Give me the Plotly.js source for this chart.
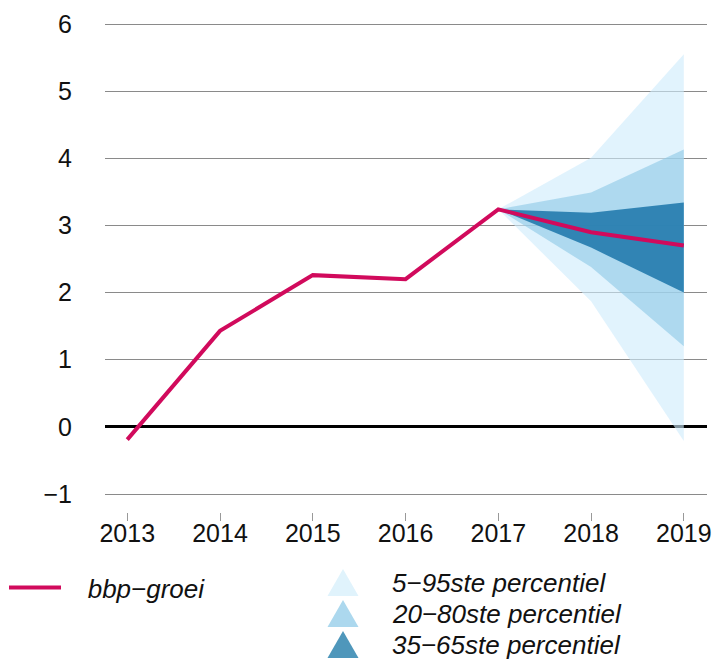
<!DOCTYPE html>
<html>
<head>
<meta charset="utf-8">
<script src="https://cdn.plot.ly/plotly-3.0.1.min.js"></script>
<style>html,body{margin:0;padding:0;background:#fff;}</style>
</head>
<body>
<div id="chart" style="width:715px;height:664px;"></div>
<script>
// Data
const years = [2013, 2014, 2015, 2016, 2017, 2018, 2019];
const gdpGrowth = [-0.19, 1.43, 2.26, 2.20, 3.24, 2.90, 2.70];
const fanYears = [2017, 2018, 2019];
const p5 = [3.24, 1.87, -0.21];
const p95 = [3.24, 4.01, 5.55];
const p20 = [3.24, 2.38, 1.20];
const p80 = [3.24, 3.49, 4.13];
const p35 = [3.24, 2.67, 2.00];
const p65 = [3.24, 3.19, 3.34];
const seriesName = "bbp\u2212groei";
const bandNames = ["5\u221295ste percentiel", "20\u221280ste percentiel", "35\u221265ste percentiel"];
const yTicks = [-1, 0, 1, 2, 3, 4, 5, 6];

const colLight = "rgba(206,235,251,0.62)";
const colMid = "rgba(140,200,230,0.6)";
const colDark = "rgba(38,125,175,0.92)";
const colLine = "#d10a5c";
const legendTri = ["#e0f3fc", "#acd8ee", "#4f97bb"];

function band(lo, hi, color, name) {
  return {
    x: fanYears.concat(fanYears.slice().reverse()),
    y: lo.concat(hi.slice().reverse()),
    type: "scatter", mode: "lines", fill: "toself", name: name,
    fillcolor: color, line: {width: 0, color: color},
    showlegend: false, hoverinfo: "skip"
  };
}

const traces = [
  band(p5, p95, colLight, bandNames[0]),
  band(p20, p80, colMid, bandNames[1]),
  band(p35, p65, colDark, bandNames[2]),
  {
    x: years, y: gdpGrowth, type: "scatter", mode: "lines",
    name: "\u00a0\u00a0\u00a0" + seriesName,
    line: {color: colLine, width: 4}
  },
  // carrier trace for the tick-mark axis
  {x: years, y: gdpGrowth, xaxis: "x2", yaxis: "y", type: "scatter", mode: "none",
   showlegend: false, hoverinfo: "skip"}
];

const FONT = "Liberation Sans, Arial, Helvetica, sans-serif";
const tickFont = {family: FONT, size: 25, color: "#111"};
const legFont = {family: FONT, size: 26, color: "#111", style: "italic"};

// plot area in pixels: left 105, right 707, top 20, bottom 512
const PL = 105, PW = 602, PB = 512, PH = 492;
const px = v => (v - PL) / PW;
const py = v => (PB - v) / PH;

// legend swatches (triangles) and labels
const shapes = [];
const annotations = [];
const rowY = [583, 614, 645];
const triW = 31, triH = 27;
bandNames.forEach((nm, i) => {
  const cx = 343, top = rowY[i] - 14, bot = top + triH;
  shapes.push({
    type: "path", xref: "paper", yref: "paper",
    path: "M " + px(cx) + " " + py(top) + " L " + px(cx + triW / 2) + " " + py(bot) +
          " L " + px(cx - triW / 2) + " " + py(bot) + " Z",
    fillcolor: legendTri[i], line: {width: 0}, layer: "above"
  });
  annotations.push({
    xref: "paper", yref: "paper", x: px(390), y: py(rowY[i]),
    xanchor: "left", yanchor: "middle", showarrow: false,
    text: nm, font: legFont
  });
});

const layout = {
  width: 715, height: 664,
  margin: {l: PL, r: 715 - PL - PW, t: 20, b: 664 - PB, autoexpand: false},
  paper_bgcolor: "#fff", plot_bgcolor: "#fff",
  xaxis: {
    range: [2012.76, 2019.25],
    tickvals: years, ticktext: years.map(String),
    showgrid: false, zeroline: false, showline: false,
    ticks: "", ticklabelstandoff: 4, tickfont: tickFont
  },
  xaxis2: {
    overlaying: "x", anchor: "y", side: "bottom",
    range: [2012.76, 2019.25], tickvals: years,
    showgrid: false, zeroline: false, showline: false, showticklabels: false,
    ticks: "outside", ticklen: 8, tickcolor: "#999", tickwidth: 1
  },
  yaxis: {
    range: [-1.268, 6.06],
    tickvals: yTicks,
    showgrid: true, gridcolor: "#8a8a8a", gridwidth: 1,
    zeroline: true, zerolinecolor: "#000", zerolinewidth: 3,
    showline: false, ticks: "",
    ticklabelstandoff: 32,
    tickfont: tickFont
  },
  legend: {
    x: px(4), y: py(564), xanchor: "left", yanchor: "top",
    font: legFont, bgcolor: "rgba(0,0,0,0)", itemwidth: 52
  },
  shapes: shapes,
  annotations: annotations,
  showlegend: true
};

Plotly.newPlot("chart", traces, layout, {displayModeBar: false, staticPlot: true});
</script>
</body>
</html>
